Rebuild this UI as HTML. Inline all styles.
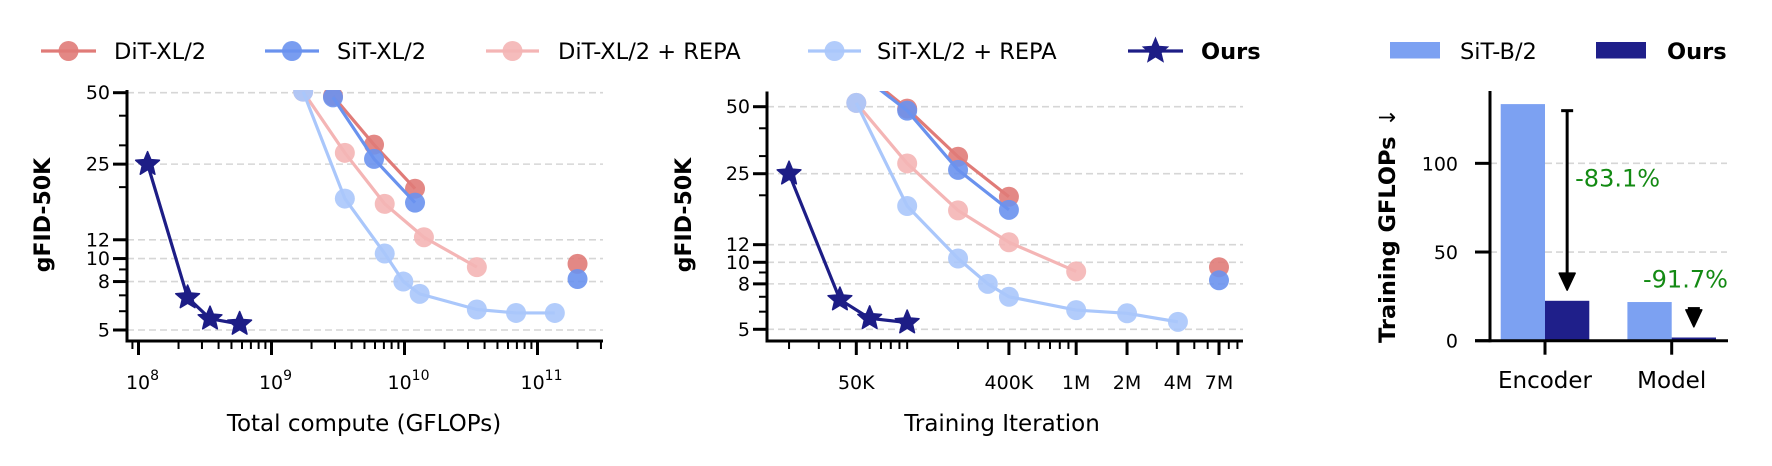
<!DOCTYPE html>
<html><head><meta charset="utf-8"><style>
html,body{margin:0;padding:0;background:#fff;}
svg{display:block;font-family:"DejaVu Sans","Liberation Sans",sans-serif;}
</style></head><body>
<svg id="chart" width="1772" height="466" viewBox="0 0 1772 466" xmlns="http://www.w3.org/2000/svg">
<defs>
<clipPath id="clip1"><rect x="127" y="90" width="480" height="252"/></clipPath>
<clipPath id="clip2"><rect x="767" y="91" width="480" height="251"/></clipPath>
</defs>
<g id="legend"></g>
<g id="p1"></g>
<g id="p2"></g>
<g id="p3"></g>
</svg>
<script>
// ---------- Panel 1 data (Total compute, GFLOPs) ----------
const p1DitX = [2.9e9, 5.9e9, 1.2e10];
const p1DitY = [48.4, 30.2, 19.7];
const p1DitFinalX = [2.0e11];
const p1DitFinalY = [9.5];
const p1SitX = [2.9e9, 5.9e9, 1.2e10];
const p1SitY = [47.8, 26.3, 17.2];
const p1SitFinalX = [2.0e11];
const p1SitFinalY = [8.2];
const p1DitRepaX = [1.73e9, 3.56e9, 7.1e9, 1.4e10, 3.5e10];
const p1DitRepaY = [50.5, 27.9, 17.0, 12.3, 9.2];
const p1SitRepaX = [1.73e9, 3.56e9, 7.1e9, 9.8e9, 1.3e10, 3.5e10, 6.9e10, 1.35e11];
const p1SitRepaY = [50.5, 17.9, 10.5, 8.0, 7.1, 6.1, 5.9, 5.9];
const p1OursX = [1.17e8, 2.34e8, 3.45e8, 5.76e8];
const p1OursY = [25, 6.85, 5.58, 5.3];
const p1XTicks = [1e8, 1e9, 1e10, 1e11];
const p1XTickExp = ["8", "9", "10", "11"];

// ---------- Panel 2 data (Training iteration) ----------
const p2DitX = [5e4, 1e5, 2e5, 4e5];
const p2DitY = [75, 49, 29.8, 19.7];
const p2DitFinalX = [7e6];
const p2DitFinalY = [9.5];
const p2SitX = [5e4, 1e5, 2e5, 4e5];
const p2SitY = [72, 48, 26.0, 17.2];
const p2SitFinalX = [7e6];
const p2SitFinalY = [8.3];
const p2DitRepaX = [5e4, 1e5, 2e5, 4e5, 1e6];
const p2DitRepaY = [52, 27.8, 17.1, 12.3, 9.1];
const p2SitRepaX = [5e4, 1e5, 2e5, 3e5, 4e5, 1e6, 2e6, 4e6];
const p2SitRepaY = [52, 17.9, 10.4, 8.0, 7.0, 6.1, 5.9, 5.4];
const p2OursX = [2e4, 4e4, 6e4, 1e5];
const p2OursY = [25, 6.8, 5.6, 5.36];
const p2XTicks = [5e4, 4e5, 1e6, 2e6, 4e6, 7e6];
const p2XTickLabels = ["50K", "400K", "1M", "2M", "4M", "7M"];

// shared y ticks for gFID
const yTicks = [5, 8, 10, 12, 25, 50];
const yTickLabels = ["5", "8", "10", "12", "25", "50"];

// ---------- Panel 3 data (bars) ----------
const barCats = ["Encoder", "Model"];
const barSit = [133.4, 21.8];
const barOurs = [22.5, 1.8];
const barPct = ["-83.1%", "-91.7%"];
const barYTicks = [0, 50, 100];

const NS = "http://www.w3.org/2000/svg";
function mk(parent, tag, attrs) {
  const e = document.createElementNS(NS, tag);
  for (const k in attrs) e.setAttribute(k, attrs[k]);
  parent.appendChild(e);
  return e;
}
const C = {dit:"#e07b78", sit:"#6a92ee", ditR:"#f4b5b5", sitR:"#aac7fb", ours:"#1d1d86", bar1:"#7ca1f2", bar2:"#1f1f8a", green:"#138a13"};

function starPath(cx, cy, R) {
  const r = R * 0.45; let d = "";
  for (let i = 0; i < 10; i++) {
    const a = -Math.PI/2 + i*Math.PI/5, rr = i%2 ? r : R;
    d += (i ? "L" : "M") + (cx + rr*Math.cos(a)).toFixed(2) + " " + (cy + rr*Math.sin(a)).toFixed(2);
  }
  return d + "Z";
}

function logScale(d0, d1, r0, r1) {
  const l0 = Math.log10(d0), l1 = Math.log10(d1);
  return v => r0 + (Math.log10(v) - l0) / (l1 - l0) * (r1 - r0);
}

function drawLogPanel(g, cfg) {
  const {sx, sy, left, right, top, bottom, clip} = cfg;
  yTicks.forEach((t, i) => {
    const gl = mk(g, "line", {x1:left, x2:right, y1:sy(t), y2:sy(t), stroke:"#d6d6d6", "stroke-width":1.6, "stroke-dasharray":"7 4"});
    
    
  });
  const series = cfg.series;
  const sg = mk(g, "g", {"clip-path":"url(#" + clip + ")"});
  series.forEach(s => {
    const pts = s.x.map((v, i) => sx(v).toFixed(2) + "," + sy(s.y[i]).toFixed(2)).join(" ");
    const ln = mk(sg, "polyline", {points:pts, fill:"none", stroke:s.color, "stroke-width":3.2, "stroke-linejoin":"round"});
    
    
    const allX = s.x.concat(s.fx || []), allY = s.y.concat(s.fy || []);
    allX.forEach((v, i) => {
      let m;
      if (s.star) m = mk(sg, "path", {d:starPath(sx(v), sy(allY[i]), 12.5), fill:s.color, stroke:s.color, "stroke-width":1.5, "stroke-linejoin":"round"});
      else m = mk(sg, "circle", {cx:sx(v), cy:sy(allY[i]), r:10, fill:s.color, "fill-opacity":0.9});
      
      
    });
  });
  const sp1 = mk(g, "line", {x1:left, x2:left, y1:top, y2:bottom + 1.5, stroke:"#000", "stroke-width":3});
  
  
  const sp2 = mk(g, "line", {x1:left - 1.5, x2:right, y1:bottom, y2:bottom, stroke:"#000", "stroke-width":3});
  
  
  const [ymin, ymax] = cfg.yDom;
  for (let k = 0; k <= 2; k++) for (let m = 2; m <= 9; m++) {
    const v = m * Math.pow(10, k);
    if (v < ymin || v > ymax || yTicks.includes(v)) continue;
    mk(g, "line", {x1:left - 8, x2:left, y1:sy(v), y2:sy(v), stroke:"#000", "stroke-width":2});
  }
  yTicks.forEach((t, i) => {
    mk(g, "line", {x1:left - 14, x2:left, y1:sy(t), y2:sy(t), stroke:"#000", "stroke-width":3});
    const tx = mk(g, "text", {x:left - 17, y:sy(t) + 6.5, "text-anchor":"end", "font-size":19, fill:"#000"});
    tx.textContent = yTickLabels[i];
    
    
  });
  const [xmin, xmax] = cfg.xDom;
  for (let k = Math.floor(Math.log10(xmin)); k <= Math.ceil(Math.log10(xmax)); k++) for (let m = 1; m <= 9; m++) {
    const v = m * Math.pow(10, k);
    if (v < xmin || v > xmax) continue;
    if (cfg.xTicks.some(t => Math.abs(t - v) / v < 1e-6)) continue;
    mk(g, "line", {x1:sx(v), x2:sx(v), y1:bottom, y2:bottom + 8, stroke:"#000", "stroke-width":2});
  }
  cfg.xTicks.forEach((t, i) => {
    mk(g, "line", {x1:sx(t), x2:sx(t), y1:bottom, y2:bottom + 14, stroke:"#000", "stroke-width":3});
    const tx = mk(g, "text", {x:sx(t), y:389, "text-anchor":"middle", "font-size":19, fill:"#000"});
    if (cfg.xExp) {
      const a = mk(tx, "tspan", {}); a.textContent = "10";
      const b = mk(tx, "tspan", {dy:-9, "font-size":14}); b.textContent = cfg.xExp[i];
      tx.setAttribute("x", sx(t) + 4);
    } else tx.textContent = cfg.xLabels[i];
    
    
  });
  const xl = mk(g, "text", {x:cfg.xlx, y:431, "text-anchor":"middle", "font-size":23, fill:"#000"});
  xl.textContent = cfg.xTitle;
  
  
  const yl = mk(g, "text", {x:0, y:0, "text-anchor":"middle", "font-size":22, "font-weight":"bold", fill:"#000", transform:"translate(" + cfg.ylx + ",215) rotate(-90)"});
  yl.textContent = "gFID-50K";
  
  
}

// Panel 1
(function(){
  const g = document.getElementById("p1");
  const xDom = [Math.pow(10, 7.9135), Math.pow(10, 11.4925)];
  const yDom = [4.49, 50.8];
  const sx = logScale(xDom[0], xDom[1], 127, 603);
  const sy = logScale(5, 50, 330, 92.7);
  drawLogPanel(g, {sx, sy, left:127, right:603, top:90, bottom:341, clip:"clip1", xDom, yDom,
    xTicks:p1XTicks, xExp:p1XTickExp, xTitle:"Total compute (GFLOPs)", xlx:364, ylx:50,
    series:[
      {name:"dit-xl2", x:p1DitX, y:p1DitY, fx:p1DitFinalX, fy:p1DitFinalY, color:C.dit},
      {name:"sit-xl2", x:p1SitX, y:p1SitY, fx:p1SitFinalX, fy:p1SitFinalY, color:C.sit},
      {name:"dit-xl2-repa", x:p1DitRepaX, y:p1DitRepaY, color:C.ditR},
      {name:"sit-xl2-repa", x:p1SitRepaX, y:p1SitRepaY, color:C.sitR},
      {name:"ours", x:p1OursX, y:p1OursY, color:C.ours, star:true}
    ]});
})();

// Panel 2
(function(){
  const g = document.getElementById("p2");
  const l50 = Math.log10(5e4), ppd = 169;
  const xDom = [Math.pow(10, l50 - (856.3 - 767) / ppd), Math.pow(10, l50 + (1243 - 856.3) / ppd)];
  const yDom = [4.48, 58.4];
  const sx = logScale(xDom[0], xDom[1], 767, 1243);
  const sy = logScale(5, 50, 329.3, 106.7);
  drawLogPanel(g, {sx, sy, left:767, right:1243, top:91.5, bottom:341, clip:"clip2", xDom, yDom,
    xTicks:p2XTicks, xLabels:p2XTickLabels, xTitle:"Training Iteration", xlx:1002, ylx:691,
    series:[
      {name:"dit-xl2", x:p2DitX, y:p2DitY, fx:p2DitFinalX, fy:p2DitFinalY, color:C.dit},
      {name:"sit-xl2", x:p2SitX, y:p2SitY, fx:p2SitFinalX, fy:p2SitFinalY, color:C.sit},
      {name:"dit-xl2-repa", x:p2DitRepaX, y:p2DitRepaY, color:C.ditR},
      {name:"sit-xl2-repa", x:p2SitRepaX, y:p2SitRepaY, color:C.sitR},
      {name:"ours", x:p2OursX, y:p2OursY, color:C.ours, star:true}
    ]});
})();

// Panel 3
(function(){
  const g = document.getElementById("p3");
  const y0 = 340.7, ppu = 1.7736;
  const sy = v => y0 - v * ppu;
  const sx = i => 1545 + i * 126.7;
  const bw = 44.3;
  barYTicks.forEach(t => {
    if (t > 0) {
      const gl = mk(g, "line", {x1:1490, x2:1727, y1:sy(t), y2:sy(t), stroke:"#d6d6d6", "stroke-width":1.6, "stroke-dasharray":"7 4"});
      
      
    }
  });
  barCats.forEach((c, i) => {
    const b1 = mk(g, "rect", {x:sx(i) - bw, y:sy(barSit[i]), width:bw, height:barSit[i] * ppu, fill:C.bar1});
    
    
    const b2 = mk(g, "rect", {x:sx(i), y:sy(barOurs[i]), width:bw, height:barOurs[i] * ppu, fill:C.bar2});
    
    
    const ax = sx(i) + bw / 2;
    const ys = sy(barSit[i] - 3.7), yt = sy(barOurs[i] + 6);
    const headTop = yt - 17;
    const ag = mk(g, "g", {});
    
    
    if (headTop > ys) {
      mk(ag, "line", {x1:ax, x2:ax, y1:ys, y2:headTop, stroke:"#000", "stroke-width":3});
      mk(ag, "line", {x1:ax - 6, x2:ax + 6, y1:ys, y2:ys, stroke:"#000", "stroke-width":3});
    }
    mk(ag, "path", {d:"M" + (ax - 8) + " " + headTop + "L" + (ax + 8) + " " + headTop + "L" + ax + " " + yt + "Z", fill:"#000", stroke:"#000", "stroke-width":1.5, "stroke-linejoin":"round"});
    const tx = mk(g, "text", {"font-size":24, fill:C.green});
    if (i === 0) { tx.setAttribute("x", ax + 8); tx.setAttribute("y", 186.7); }
    else { tx.setAttribute("x", 1643); tx.setAttribute("y", 287.7); }
    tx.textContent = barPct[i];
    
    
    mk(g, "line", {x1:sx(i), x2:sx(i), y1:y0, y2:y0 + 14, stroke:"#000", "stroke-width":3});
    const xt = mk(g, "text", {x:sx(i), y:388, "text-anchor":"middle", "font-size":23, fill:"#000"});
    xt.textContent = c;
    
    
  });
  const s1 = mk(g, "line", {x1:1490, x2:1490, y1:91, y2:y0 + 1.5, stroke:"#000", "stroke-width":3});
  
  
  const s2 = mk(g, "line", {x1:1475, x2:1728, y1:y0, y2:y0, stroke:"#000", "stroke-width":3});
  
  
  barYTicks.forEach(t => {
    mk(g, "line", {x1:1475, x2:1490, y1:sy(t), y2:sy(t), stroke:"#000", "stroke-width":3});
    const tx = mk(g, "text", {x:1458, y:sy(t) + 7, "text-anchor":"end", "font-size":19, fill:"#000"});
    tx.textContent = String(t);
    
    
  });
  const yl = mk(g, "text", {x:0, y:0, "text-anchor":"start", "font-size":22.5, "font-weight":"bold", fill:"#000", transform:"translate(1395,343) rotate(-90)"});
  const t1 = mk(yl, "tspan", {}); t1.textContent = "Training GFLOPs ";
  const t2 = mk(yl, "tspan", {"font-weight":"normal", "font-size":22, dx:2}); t2.textContent = "\u2193";
  
  
})();

// Legend
(function(){
  const g = document.getElementById("legend");
  const y = 51;
  const items = [
    {label:"DiT-XL/2", x1:41, x2:96, tx:114, color:C.dit},
    {label:"SiT-XL/2", x1:265, x2:319, tx:337, color:C.sit},
    {label:"DiT-XL/2 + REPA", x1:486, x2:539, tx:558, color:C.ditR},
    {label:"SiT-XL/2 + REPA", x1:808, x2:861, tx:877, color:C.sitR},
    {label:"Ours", x1:1128, x2:1183, tx:1201, color:C.ours, star:true, bold:true}
  ];
  items.forEach(it => {
    const e = mk(g, "g", {});
    
    
    mk(e, "line", {x1:it.x1, x2:it.x2, y1:y, y2:y, stroke:it.color, "stroke-width":3.2});
    const cx = (it.x1 + it.x2) / 2;
    if (it.star) mk(e, "path", {d:starPath(cx, y, 12.5), fill:it.color, stroke:it.color, "stroke-width":1.5});
    else mk(e, "circle", {cx:cx, cy:y, r:10, fill:it.color, "fill-opacity":0.9});
    const t = mk(e, "text", {x:it.tx, y:y + 8, "font-size":22.5, fill:"#000"});
    if (it.bold) t.setAttribute("font-weight", "bold");
    t.textContent = it.label;
  });
  const bars = [
    {label:"SiT-B/2", x:1390, tx:1460, color:C.bar1},
    {label:"Ours", x:1596, tx:1667, color:C.bar2, bold:true}
  ];
  bars.forEach(it => {
    const e = mk(g, "g", {});
    
    
    mk(e, "rect", {x:it.x, y:42, width:50, height:16.5, fill:it.color});
    const t = mk(e, "text", {x:it.tx, y:y + 8, "font-size":22.5, fill:"#000"});
    if (it.bold) t.setAttribute("font-weight", "bold");
    t.textContent = it.label;
  });
})();
</script>
</body></html>
